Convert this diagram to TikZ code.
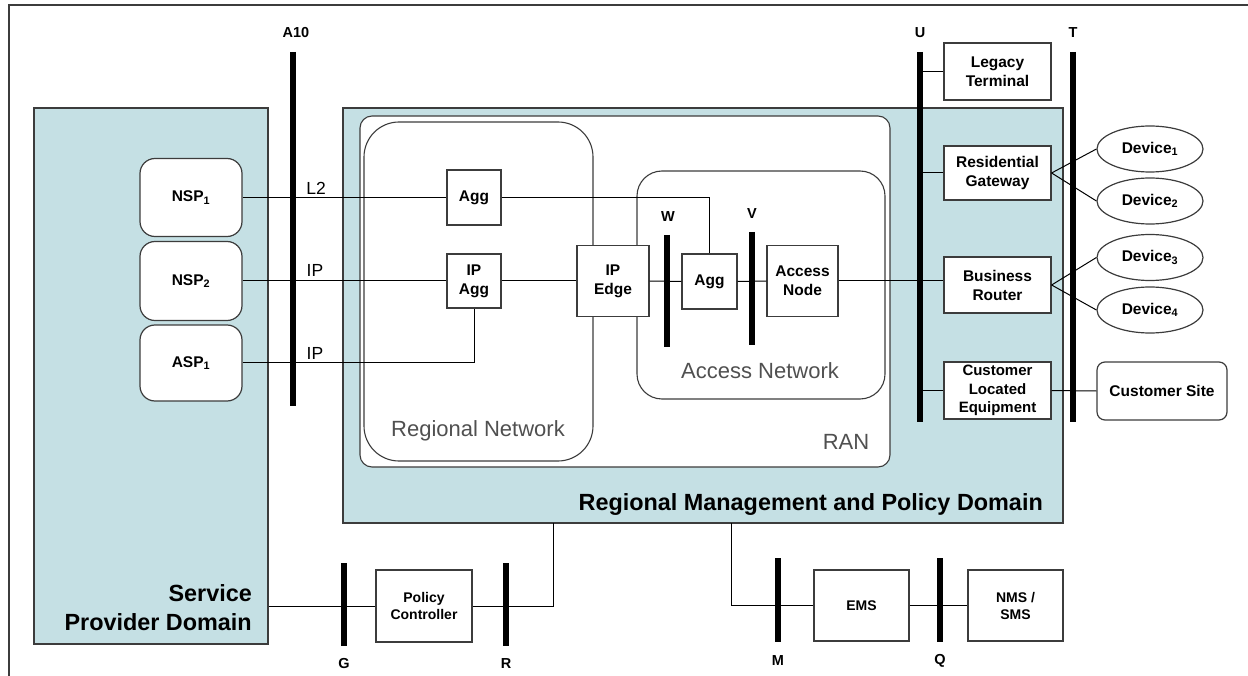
\documentclass[tikz,border=0pt]{standalone}
\usepackage{fontspec}
\setmainfont{Liberation Sans}
\usetikzlibrary{shapes.geometric}
\definecolor{dom}{RGB}{197,224,228}
\definecolor{edgec}{RGB}{60,60,60}
\definecolor{soft}{RGB}{80,80,80}
\begin{document}
\begin{tikzpicture}[x=1pt,y=-1pt,
  dombox/.style={draw=edgec, line width=1.2pt, fill=dom, inner sep=0pt, rectangle},
  netbox/.style={draw=edgec, line width=1.1pt, fill=white, inner sep=0pt, rectangle},
  box/.style={draw=edgec, line width=1.2pt, fill=white, inner sep=0pt, align=center,
    font=\fontsize{15.5}{19}\selectfont\bfseries},
  sbox/.style={box, font=\fontsize{14}{17}\selectfont\bfseries},
  rbox/.style={box, rounded corners=15pt},
  dev/.style={box, ellipse, font=\fontsize{15.5}{18}\selectfont\bfseries},
  conn/.style={line width=1pt, black},
  bar/.style={line width=6pt, black},
  blab/.style={font=\fontsize{14.5}{17}\selectfont\bfseries, inner sep=0pt},
  llab/.style={font=\fontsize{17.5}{20}\selectfont, inner sep=0pt},
  netlab/.style={font=\fontsize{22}{26}\selectfont, text=soft, inner sep=0pt},
  domlab/.style={font=\fontsize{23.4}{28}\selectfont\bfseries, inner sep=0pt}
]
\useasboundingbox (0,0) rectangle (1248,676);
% frame
\draw[line width=2pt, edgec] (9,676) -- (9,5) -- (1248,5);

% domains
\node[dombox, minimum width=234pt, minimum height=536pt] (SPD) at (151,376) {};
\node[dombox, minimum width=720pt, minimum height=415pt] (RMPD) at (703,315.5) {};
\node[netbox, rounded corners=12pt, minimum width=530pt, minimum height=351pt] (RAN) at (625,291.5) {};
\node[netbox, rounded corners=35pt, minimum width=229pt, minimum height=339pt] (RN) at (478.5,291.5) {};
\node[netbox, rounded corners=25pt, minimum width=248pt, minimum height=228pt] (AcN) at (761,285) {};

\node[domlab, anchor=base east] (lSPD1) at (252,601.5) {Service};
\node[domlab, anchor=base east] (lSPD2) at (252,630.5) {Provider Domain};
\node[domlab, anchor=base east] (lRMPD) at (1043,510.5) {Regional Management and Policy Domain};
\node[netlab] (lRN) at (478,431) {Regional Network};
\node[netlab] (lAcN) at (760,371) {Access Network};
\node[netlab] (lRAN) at (846,442) {RAN};

% service provider nodes
\node[rbox, minimum width=102pt, minimum height=78pt] (NSP1) at (191,197.5) {NSP\textsubscript{1}};
\node[rbox, minimum width=102pt, minimum height=79pt] (NSP2) at (191,281) {NSP\textsubscript{2}};
\node[rbox, minimum width=102pt, minimum height=76pt] (ASP1) at (191,363) {ASP\textsubscript{1}};

% regional / access nodes
\node[box, minimum width=54pt, minimum height=55pt] (Agg) at (474,197.5) {Agg};
\node[box, minimum width=54pt, minimum height=54pt] (IPAgg) at (474,281) {IP\\Agg};
\node[box, minimum width=72pt, minimum height=71pt] (IPEdge) at (613,281) {IP\\Edge};
\node[box, minimum width=55pt, minimum height=55pt] (AggA) at (709.5,281.5) {Agg};
\node[box, minimum width=71pt, minimum height=71pt] (AN) at (802.5,281) {Access\\Node};

% customer side
\node[box, minimum width=107pt, minimum height=57pt] (LT) at (997.5,71.5) {Legacy\\Terminal};
\node[box, minimum width=107pt, minimum height=54pt] (RG) at (997.5,173) {Residential\\Gateway};
\node[box, minimum width=107pt, minimum height=56pt] (BR) at (997.5,285) {Business\\Router};
\node[box, minimum width=107pt, minimum height=57pt, font=\fontsize{15}{18.5}\selectfont\bfseries] (CLE) at (997.5,390.5) {Customer\\Located\\Equipment};
\node[dev, minimum width=106pt, minimum height=46pt] (D1) at (1150,149) {Device\textsubscript{1}};
\node[dev, minimum width=106pt, minimum height=46pt] (D2) at (1150,201) {Device\textsubscript{2}};
\node[dev, minimum width=106pt, minimum height=46pt] (D3) at (1150,257.5) {Device\textsubscript{3}};
\node[dev, minimum width=106pt, minimum height=46pt] (D4) at (1150,310) {Device\textsubscript{4}};
\node[box, rounded corners=8pt, minimum width=130pt, minimum height=58pt] (CS) at (1162,391) {Customer Site};

% management nodes
\node[sbox, minimum width=96pt, minimum height=72pt] (PC) at (424,606) {Policy\\Controller};
\node[sbox, minimum width=95pt, minimum height=71pt] (EMS) at (861.5,605.5) {EMS};
\node[sbox, minimum width=95pt, minimum height=71pt] (NMS) at (1015.5,605.5) {NMS /\\SMS};

% reference points
\coordinate (A10) at (293,52);
\coordinate (U) at (920,52);
\coordinate (T) at (1073,52);
\coordinate (W) at (667,235);
\coordinate (V) at (752,232);
\coordinate (G) at (344,563);
\coordinate (R) at (506,563);
\coordinate (M) at (778,558);
\coordinate (Q) at (940,558);
\coordinate (rp) at (553,523);
\coordinate (mp) at (731,523);

% connectors
\draw[conn] (NSP1.east) -- (Agg.west);
\draw[conn] (Agg.east) -| (AggA.north);
\draw[conn] (NSP2.east) -- (IPAgg.west);
\draw[conn] (IPAgg.east) -- (IPEdge.west);
\draw[conn] (IPEdge.east) -- (AggA.west);
\draw[conn] (AggA.east) -- (AN.west);
\draw[conn] (AN.east) -- (AN.east -| BR.west);
\draw[conn] (ASP1.east) -| (IPAgg.south);
\draw[conn] (LT.west) -- (LT.west -| U);
\draw[conn] (RG.west) -- (RG.west -| U);
\draw[conn] (CLE.west) -- (CLE.west -| U);
\draw[conn] (RG.east) -- (D1.west);
\draw[conn] (RG.east) -- (D2.west);
\draw[conn] (BR.east) -- (D3.west);
\draw[conn] (BR.east) -- (D4.west);
\draw[conn] (CLE.east) -- (CS.west);
\draw[conn] (PC.west) -- (PC.west -| SPD.east);
\draw[conn] (PC.east) -| (rp);
\draw[conn] (mp) |- (EMS.west);
\draw[conn] (EMS.east) -- (NMS.west);

% bars
\draw[bar] (A10) -- ++(0,354);
\draw[bar] (U) -- ++(0,370);
\draw[bar] (T) -- ++(0,370);
\draw[bar] (W) -- ++(0,112);
\draw[bar] (V) -- ++(0,113);
\draw[bar] (G) -- ++(0,83);
\draw[bar] (R) -- ++(0,83);
\draw[bar] (M) -- ++(0,84);
\draw[bar] (Q) -- ++(0,84);

% bar labels
\node[blab] (lA10) at (296,33) {A10};
\node[blab] (lU) at (920,33) {U};
\node[blab] (lT) at (1073,33) {T};
\node[blab] (lW) at (668,217) {W};
\node[blab] (lV) at (752,214) {V};
\node[blab] (lG) at (344,664) {G};
\node[blab] (lR) at (506,664) {R};
\node[blab] (lM) at (778,661) {M};
\node[blab] (lQ) at (940,661) {Q};

% link labels
\node[llab] (lL2) at (316,188) {L2};
\node[llab] (lIP1) at (315,270) {IP};
\node[llab] (lIP2) at (315,353) {IP};
\end{tikzpicture}
\end{document}
